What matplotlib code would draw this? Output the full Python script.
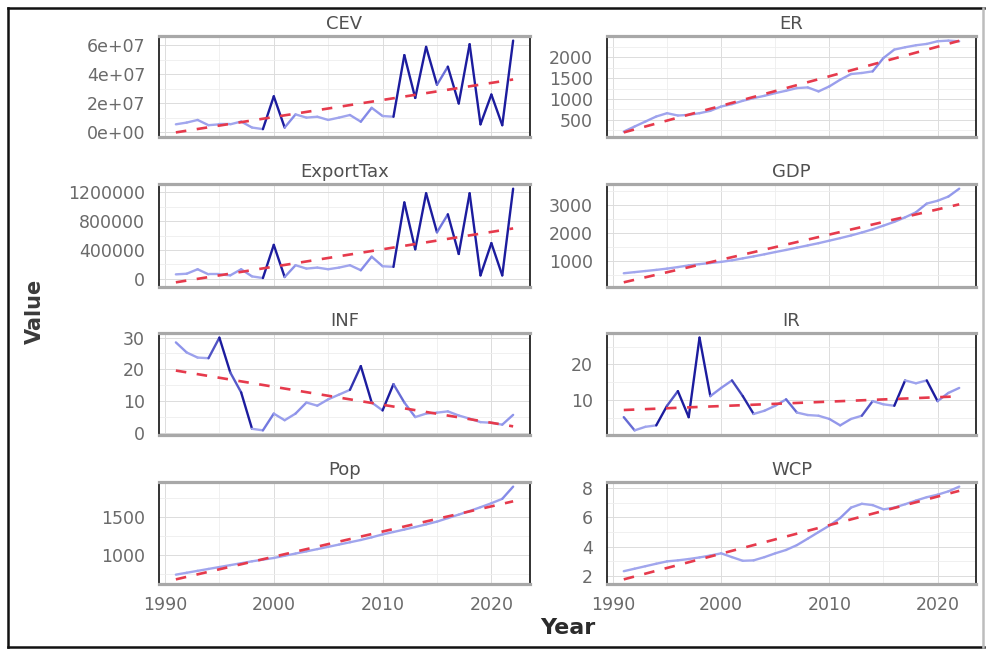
import numpy as np
import matplotlib
matplotlib.use("Agg")
import matplotlib.pyplot as plt
from matplotlib.collections import LineCollection
from matplotlib.colors import LinearSegmentedColormap
from matplotlib.lines import Line2D

plt.rcParams['font.family'] = ['DejaVu Sans']

years = np.arange(1991, 2023)

cev = [5.6e6, 6.8e6, 8.6e6, 5.0e6, 5.6e6, 5.6e6, 7.5e6, 3.4e6, 2.3e6, 2.48e7,
       3.4e6, 1.24e7, 1.02e7, 1.08e7, 8.6e6, 1.02e7, 1.20e7, 7.4e6, 1.69e7, 1.13e7,
       1.08e7, 5.30e7, 2.37e7, 5.87e7, 3.27e7, 4.51e7, 1.99e7, 6.05e7, 5.6e6, 2.60e7,
       5.0e6, 6.3e7]
export_tax = [61e3, 70e3, 132e3, 61e3, 61e3, 47e3, 132e3, 33e3, 10e3, 470e3,
              24e3, 188e3, 141e3, 155e3, 132e3, 155e3, 188e3, 118e3, 306e3, 174e3,
              165e3, 1059e3, 409e3, 1186e3, 645e3, 894e3, 344e3, 1186e3, 47e3, 494e3,
              47e3, 1250e3]
er = [219, 340, 460, 580, 660, 604, 620, 660, 717, 820,
      877, 957, 1021, 1077, 1142, 1198, 1262, 1278, 1182, 1303,
      1463, 1599, 1624, 1663, 1984, 2185, 2241, 2289, 2321, 2385,
      2401, 2385]
gdp = [570, 610, 650, 690, 735, 790, 850, 895, 935, 975,
       1030, 1100, 1170, 1245, 1325, 1400, 1480, 1560, 1640, 1730,
       1820, 1915, 2020, 2135, 2265, 2400, 2560, 2740, 3050, 3150,
       3300, 3580]
inf = [28.5, 25.3, 23.7, 23.5, 30.0, 19.0, 12.7, 1.2, 0.7, 6.0,
       3.9, 6.0, 9.5, 8.5, 10.5, 12.0, 13.5, 21.0, 9.5, 7.0,
       15.3, 9.5, 4.9, 6.0, 6.3, 6.7, 5.4, 4.4, 3.3, 3.1,
       2.5, 5.6]
ir = [5.2, 1.5, 2.5, 2.9, 8.4, 12.5, 5.2, 27.5, 11.1, 13.4,
      15.5, 11.1, 6.1, 7.0, 8.4, 10.2, 6.5, 5.8, 5.6, 4.7,
      2.9, 4.7, 5.6, 9.7, 8.8, 8.4, 15.5, 14.7, 15.5, 9.7,
      12.0, 13.4]
pop = [745, 770, 795, 820, 845, 870, 895, 920, 942, 964,
       993, 1022, 1051, 1080, 1110, 1140, 1170, 1200, 1235, 1273,
       1305, 1337, 1370, 1405, 1441, 1487, 1533, 1580, 1630, 1682,
       1740, 1900]
wcp = [2.33, 2.50, 2.67, 2.84, 3.00, 3.07, 3.16, 3.27, 3.40, 3.55,
       3.29, 3.04, 3.07, 3.29, 3.55, 3.78, 4.11, 4.55, 5.00, 5.44,
       5.96, 6.67, 6.93, 6.84, 6.55, 6.67, 6.90, 7.15, 7.38, 7.55,
       7.78, 8.10]

panel_names = ["CEV", "ER", "ExportTax", "GDP", "INF", "IR", "Pop", "WCP"]
panel_values = [cev, er, export_tax, gdp, inf, ir, pop, wcp]
panel_yticks = [
    [0, 2e7, 4e7, 6e7],
    [500, 1000, 1500, 2000],
    [0, 400000, 800000, 1200000],
    [1000, 2000, 3000],
    [0, 10, 20, 30],
    [10, 20],
    [1000, 1500],
    [2, 4, 6, 8],
]
panel_ylabels = [
    ["0e+00", "2e+07", "4e+07", "6e+07"],
    ["500", "1000", "1500", "2000"],
    ["0", "400000", "800000", "1200000"],
    ["1000", "2000", "3000"],
    ["0", "10", "20", "30"],
    ["10", "20"],
    ["1000", "1500"],
    ["2", "4", "6", "8"],
]
x_ticks = [1990, 2000, 2010, 2020]
x_minor = [1995, 2005, 2015]

W, H = 992, 651
fig = plt.figure(figsize=(W / 100, H / 100), dpi=100)
fig.patch.set_facecolor("white")

col_x = [(159, 530), (607, 976)]
row_y = [(36, 137), (184, 287), (333, 435), (482, 584)]

line_cmap = LinearSegmentedColormap.from_list("steep", ["#a3a8ee", "#7d83e6", "#1c1c9e"])
tick_color = "#6a6a6a"

for i, (name, vals) in enumerate(zip(panel_names, panel_values)):
    r, c = divmod(i, 2)
    x0, x1 = col_x[c]
    y0, y1 = row_y[r]
    ax = fig.add_axes([x0 / W, 1 - y1 / H, (x1 - x0) / W, (y1 - y0) / H])
    y = np.asarray(vals, dtype=float)

    # colour each segment by how steep the year-on-year change is
    pts = np.column_stack([years, y])
    segs = np.stack([pts[:-1], pts[1:]], axis=1)
    steep = np.abs(np.diff(y)) / y.std()
    t = np.clip(steep / 1.0, 0, 1) ** 1.4
    lc = LineCollection(segs, colors=line_cmap(t), linewidths=1.7,
                        capstyle="round", joinstyle="round", zorder=3)
    ax.add_collection(lc)

    # linear trend
    slope, intercept = np.polyfit(years, y, 1)
    trend = slope * years + intercept
    ax.plot(years, trend, color="#e63a4c", lw=1.9, ls=(0, (4, 4)), zorder=4)

    lo = min(y.min(), trend.min())
    hi = max(y.max(), trend.max())
    pad = (hi - lo) * 0.05

    yt = panel_yticks[i]
    ax.set_yticks(yt)
    ax.set_yticklabels(panel_ylabels[i])
    step = yt[1] - yt[0]
    ax.set_yticks([v + step / 2 for v in [yt[0] - step] + yt], minor=True)
    ax.set_xticks(x_ticks)
    ax.set_xticks(x_minor, minor=True)
    ax.set_ylim(lo - pad, hi + pad)
    ax.set_xlim(1989.45, 2023.55)

    ax.grid(True, which="major", color="#dcdcdc", lw=0.7, zorder=0)
    ax.grid(True, which="minor", color="#eeeeee", lw=0.6, zorder=0)
    ax.set_axisbelow(True)

    ax.tick_params(which="both", length=0, labelsize=12.5, labelcolor=tick_color)
    ax.tick_params(axis="y", pad=10)
    ax.tick_params(axis="x", pad=9)
    if r < 3:
        ax.tick_params(axis="x", labelbottom=False)

    for side in ("left", "right"):
        ax.spines[side].set_color("#111111")
        ax.spines[side].set_linewidth(1.2)
    for side in ("top", "bottom"):
        ax.spines[side].set_color("#a8a8a8")
        ax.spines[side].set_linewidth(2.3)

    ax.set_title(name, fontsize=13, color="#505050", pad=5)

fig.text(568 / W, 1 - 628 / H, "Year", ha="center", va="center",
         fontsize=16, fontweight="bold", color="#2b2b2b")
fig.text(35 / W, 1 - 311 / H, "Value", ha="center", va="center", rotation=90,
         fontsize=15, fontweight="bold", color="#3a3a3a")

# outer frame
def fpx(x, y):
    return x / W, 1 - y / H

for (xa, ya), (xb, yb), col in [
    ((8, 8), (984, 8), "#111111"),
    ((8, 8), (8, 647), "#111111"),
    ((8, 647), (984, 647), "#111111"),
    ((983, 8), (983, 647), "#bdbdbd"),
]:
    (fx0, fy0), (fx1, fy1) = fpx(xa, ya), fpx(xb, yb)
    fig.add_artist(Line2D([fx0, fx1], [fy0, fy1], color=col, lw=1.8,
                          transform=fig.transFigure))

fig.savefig("out.png", dpi=100, facecolor="white")
